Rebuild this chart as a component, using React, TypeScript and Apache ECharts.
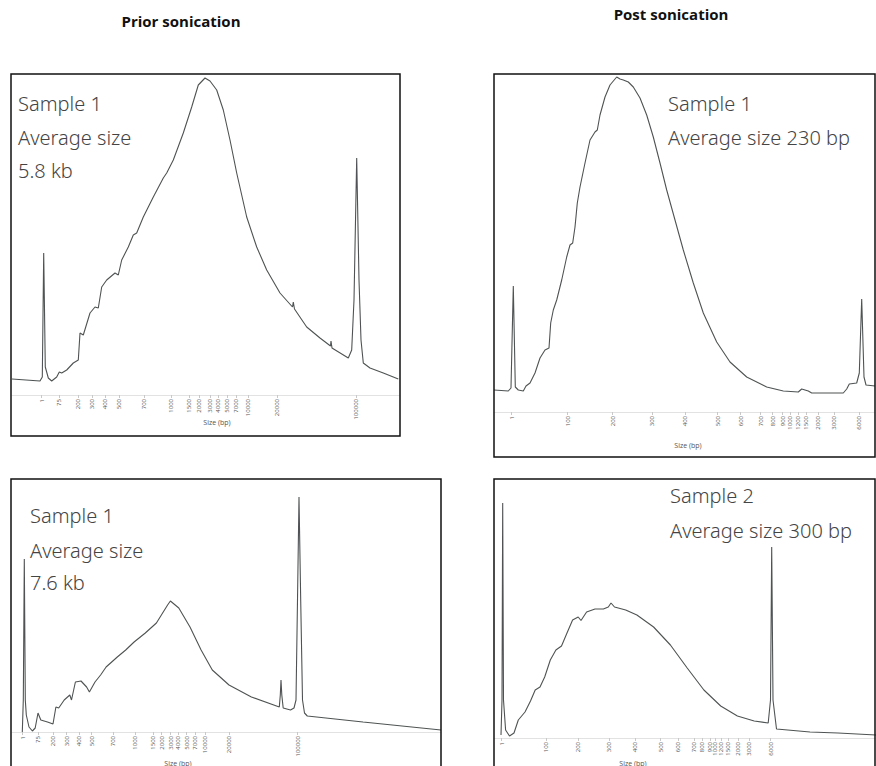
import React, { useEffect, useRef } from "react";
import * as echarts from "echarts";

// ---------- Panel 1: prior sonication, sample 1 ----------
const p1SizeLabels = ["1", "75", "200", "300", "400", "500", "700", "1000", "1500", "2000", "3000", "4000", "5000", "7000", "10000", "20000", "100000"];
const p1TickPos = [29.7, 47, 66, 80, 93, 107, 132, 159, 177, 187, 198, 206, 215, 224, 236, 265, 344];
const p1Trace: [number, number][] = [
  [0, 16], [28, 14], [30.3, 18], [31.7, 142], [33.3, 28], [36.3, 17], [39.7, 14], [44.7, 18], [47.3, 23], [49.7, 22],
  [54.7, 25], [61.3, 32], [66.3, 35], [68, 62], [71.3, 60], [78, 82], [83, 88], [86.3, 87], [89.7, 108], [94.7, 115],
  [103, 122], [106.3, 120], [109.7, 135], [116.3, 148], [121.3, 160], [124.7, 162], [131.3, 178], [141.3, 198],
  [151.3, 217], [154.7, 222], [161.3, 235], [171.3, 262], [179.7, 288], [186.3, 310], [193, 317], [198, 314],
  [204.7, 305], [211.3, 285], [218, 255], [224.7, 222], [234.7, 178], [244.7, 148], [254.7, 125], [268, 102],
  [280.5, 88], [281.3, 93], [282.5, 86], [294.7, 68], [308, 57], [318.5, 49], [319, 54], [320, 47], [336.3, 37],
  [339.7, 45], [342, 95], [344.7, 237], [347, 115], [349, 55], [351.3, 32], [358, 27], [371.3, 22], [386.3, 16],
];

// ---------- Panel 2: post sonication, sample 1 ----------
const p2SizeLabels = ["1", "100", "200", "300", "400", "500", "600", "700", "800", "900", "1000", "1200", "1500", "2000", "3000", "6000"];
const p2TickPos = [17.7, 73.7, 118.7, 158.3, 191, 223.7, 246.7, 266.7, 278.7, 288.7, 296, 304.3, 312, 324.3, 340.3, 365.3];
const p2Trace: [number, number][] = [
  [0, 22], [14.3, 21], [17, 24], [19.3, 126], [21.3, 25], [24.3, 22], [29.3, 21], [32, 26], [36, 29], [41, 39],
  [46, 54], [51, 62], [55, 64], [56.7, 89], [59.3, 102], [62.7, 112], [67.7, 132], [72.7, 155], [76, 167],
  [78.7, 169], [81, 185], [83.3, 209], [86, 225], [91, 249], [96, 272], [101, 280], [103.3, 282], [106, 297],
  [111, 315], [116, 327], [122.7, 335], [126, 333], [129.3, 332], [134.3, 330], [139.3, 325], [146, 314],
  [152.7, 297], [159.3, 275], [166, 249], [172.7, 222], [181, 192], [189.3, 162], [199.3, 129], [209.3, 99],
  [222.7, 70], [236, 50], [252.7, 35], [272.7, 25], [289.3, 21], [304.3, 20], [307.7, 23], [314.3, 21],
  [317.7, 19], [349.3, 19], [352.7, 23], [355.3, 28], [362.7, 29], [365.3, 39], [367.7, 113], [370, 35],
  [372, 27], [381, 26],
];

// ---------- Panel 3: prior sonication, sample 1 (second run) ----------
const p3SizeLabels = ["1", "75", "200", "300", "400", "500", "700", "1000", "1500", "2000", "3000", "4000", "5000", "7000", "10000", "20000", "100000"];
const p3TickPos = [10.7, 26.3, 41.3, 54.7, 67, 79.7, 101.3, 123, 141.3, 149.7, 158.7, 166.3, 174.7, 183, 193, 217.3, 285.7];
const p3Trace: [number, number][] = [
  [10.3, 0], [11.3, 32], [12.3, 173], [13.3, 32], [14.3, 17], [17, 5], [20.4, 1], [23.2, 4], [26, 19], [28.8, 12],
  [35.5, 10], [41, 8], [43.9, 25], [46.7, 24], [52.2, 32], [57.8, 37], [59.5, 32], [63.4, 50], [69, 51],
  [74.6, 45], [77.4, 40], [83, 50], [88.6, 57], [94.1, 65], [99.7, 70], [105.3, 75], [113.7, 82], [122.1, 90],
  [133.3, 99], [144.4, 109], [155.6, 127], [158.4, 131], [166.8, 124], [178, 105], [189.1, 82], [200.3, 62],
  [217, 47], [239.4, 35], [267.3, 25], [268.3, 37], [269, 52], [269.8, 37], [271.2, 24], [278.5, 22], [282, 24],
  [284, 32], [285.5, 132], [287, 235], [288.7, 132], [290.5, 32], [292.5, 19], [295.3, 16], [351, 10], [429, 2],
];

// ---------- Panel 4: post sonication, sample 2 ----------
const p4SizeLabels = ["1", "100", "200", "300", "400", "500", "600", "700", "800", "900", "1000", "1200", "1500", "2000", "3000", "6000"];
const p4TickPos = [7.7, 52, 84.3, 115, 141, 166.7, 184.3, 200, 208.3, 216, 221, 227, 234.3, 244.3, 255, 276.7];
const p4Trace: [number, number][] = [
  [7, 3], [8, 38], [8.7, 235], [9.5, 38], [11.6, 8], [15.5, 2], [20, 5], [24.3, 18], [31, 26], [36.5, 37],
  [41.2, 48], [46, 51], [50.7, 61], [56.3, 78], [61.9, 88], [67.5, 92], [73, 105], [78.6, 118], [84.2, 121],
  [87, 117.5], [92.6, 126], [101, 129], [109.4, 129], [114.3, 131], [117, 135], [120.5, 131], [131.7, 128],
  [142.9, 123], [159.6, 111], [176.4, 93], [193.2, 70], [209.9, 48], [226.7, 32], [243.4, 22], [260.2, 17],
  [274.2, 15], [276.5, 38], [277.7, 191], [279, 38], [282.5, 9], [316, 6], [344, 5], [382, 3],
];

const titles = ["Prior sonication", "Post sonication"];
const p1Notes = ["Sample 1", "Average size", "5.8 kb"];
const p2Notes = ["Sample 1", "Average size 230 bp"];
const p3Notes = ["Sample 1", "Average size", "7.6 kb"];
const p4Notes = ["Sample 2", "Average size 300 bp"];
const axisTitle = "Size (bp)";

// layout of each panel (pixels)
const panels = [
  { trace: p1Trace, ticks: p1TickPos, labels: p1SizeLabels, left: 12, top: 75, width: 388, height: 320, box: [11, 74, 389, 362], nameX: 217, nameY: 422 },
  { trace: p2Trace, ticks: p2TickPos, labels: p2SizeLabels, left: 494, top: 75, width: 381, height: 337, box: [494, 74, 381, 383], nameX: 688, nameY: 445 },
  { trace: p3Trace, ticks: p3TickPos, labels: p3SizeLabels, left: 12, top: 479, width: 429, height: 253, box: [11, 479, 430, 320], nameX: 178, nameY: 763 },
  { trace: p4Trace, ticks: p4TickPos, labels: p4SizeLabels, left: 494, top: 479, width: 381, height: 259, box: [494, 479, 381, 320], nameX: 633, nameY: 763 },
];

const noteFont = '"Noto Sans", sans-serif';

export default function App() {
  const ref = useRef<HTMLDivElement>(null);
  useEffect(() => {
    document.body.style.margin = "0";
    if (!ref.current) return;
    const chart = echarts.init(ref.current, undefined, { renderer: "svg" });

    const grid = panels.map((p) => ({ left: p.left, top: p.top, width: p.width, height: p.height, containLabel: false }));
    const xAxis = panels.map((p, i) => ({
      type: "value",
      gridIndex: i,
      min: 0,
      max: p.width,
      splitLine: { show: false },
      axisLine: { show: true, lineStyle: { color: "#e2e2e2", width: 1 } },
      axisTick: { show: true, customValues: p.ticks, length: 3, lineStyle: { color: "#c8c8c8" } },
      axisLabel: {
        show: true,
        customValues: p.ticks,
        rotate: 90,
        fontSize: 6,
        color: "#555",
        margin: 4,
        fontFamily: '"Open Sans", sans-serif',
        formatter: (v: number) => {
          let best = -1, bd = 1e9;
          p.ticks.forEach((t, k) => { const d = Math.abs(t - v); if (d < bd) { bd = d; best = k; } });
          return bd < 0.05 ? p.labels[best] : "";
        },
      },
    }));
    const yAxis = panels.map((p, i) => ({ type: "value", gridIndex: i, min: 0, max: p.height, show: false }));
    const series = panels.map((p, i) => ({
      type: "line",
      xAxisIndex: i,
      yAxisIndex: i,
      data: p.trace,
      showSymbol: false,
      silent: true,
      lineStyle: { color: "#4f5353", width: 1.1 },
    }));

    const graphic: any[] = [];
    panels.forEach((p) => {
      graphic.push({ type: "rect", shape: { x: p.box[0], y: p.box[1], width: p.box[2], height: p.box[3] }, style: { fill: "none", stroke: "#111", lineWidth: 1.5 }, z: 10 });
      graphic.push({ type: "text", x: p.nameX, y: p.nameY, style: { text: axisTitle, fontSize: 7, fill: "#555", align: "center", verticalAlign: "middle", fontFamily: '"Open Sans", sans-serif' } });
    });
    const titleStyle = { fontSize: 15, fontWeight: "bold", fill: "#111", align: "center", verticalAlign: "middle", fontFamily: '"Open Sans", sans-serif' };
    graphic.push({ type: "text", x: 181, y: 21, style: { ...titleStyle, text: titles[0] } });
    graphic.push({ type: "text", x: 671, y: 14, style: { ...titleStyle, text: titles[1] } });

    const noteStyle = { fontSize: 20, fontWeight: 300, fill: "#444", align: "left", verticalAlign: "middle", fontFamily: noteFont };
    const addNotes = (lines: string[], x: number, ys: number[]) =>
      lines.forEach((t, k) => graphic.push({ type: "text", x, y: ys[k], style: { ...noteStyle, text: t }, z: 5 }));
    addNotes(p1Notes, 18, [103, 137, 170]);
    addNotes(p2Notes, 668, [103, 137]);
    addNotes(p3Notes, 30, [515, 550, 582]);
    addNotes(p4Notes, 670, [495, 530]);

    chart.setOption({ animation: false, backgroundColor: "#fff", grid, xAxis, yAxis, series, graphic });
    return () => chart.dispose();
  }, []);
  return <div ref={ref} style={{ width: 876, height: 766 }} />;
}
